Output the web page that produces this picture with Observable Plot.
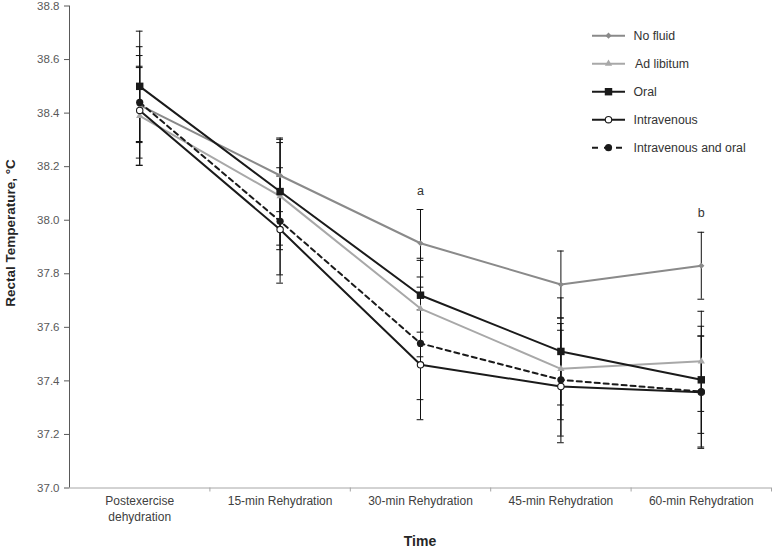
<!DOCTYPE html>
<html>
<head>
<meta charset="utf-8">
<script src="https://cdn.jsdelivr.net/npm/d3@7"></script>
<script src="https://cdn.jsdelivr.net/npm/@observablehq/plot@0.6"></script>
<style>
  body { margin: 0; background: #fff; font-family: "Liberation Sans", Arial, sans-serif; }
  #wrap { position: relative; width: 772px; height: 548px; overflow: hidden; }
  #wrap svg.chart { position: absolute; left: 0; top: 0; }
  .ytitle { position: absolute; left: 10px; top: 233px; transform: translate(-50%, -50%) rotate(-90deg);
            white-space: nowrap; font-weight: bold; font-size: 13.5px; color: #262626; }
  .xtitle { position: absolute; left: 420px; top: 541px; transform: translate(-50%, -50%);
            font-weight: bold; font-size: 14px; color: #262626; }
  #legend { position: absolute; left: 585px; top: 20px; }
</style>
</head>
<body>
<div id="wrap"></div>
<script>
// ---- data ----
const timeLabels = ["Postexercise\ndehydration", "15-min Rehydration", "30-min Rehydration", "45-min Rehydration", "60-min Rehydration"];
const seriesNames = ["No fluid", "Ad libitum", "Oral", "Intravenous", "Intravenous and oral"];
const noFluidMean = [38.43, 38.167, 37.914, 37.76, 37.83];
const noFluidSD   = [0.14, 0.135, 0.126, 0.125, 0.125];
const adLibMean   = [38.39, 38.09, 37.67, 37.445, 37.473];
const adLibSD     = [0.185, 0.2, 0.18, 0.19, 0.187];
const oralMean    = [38.50, 38.107, 37.72, 37.51, 37.404];
const oralSD      = [0.206, 0.2, 0.138, 0.2, 0.2];
const ivMean      = [38.41, 37.965, 37.46, 37.379, 37.358];
const ivSD        = [0.205, 0.2, 0.205, 0.21, 0.21];
const ivOralMean  = [38.44, 37.996, 37.54, 37.404, 37.36];
const ivOralSD    = [0.208, 0.2, 0.21, 0.21, 0.207];
const yTicks = [37.0, 37.2, 37.4, 37.6, 37.8, 38.0, 38.2, 38.4, 38.6, 38.8];
const sigLabels = ["", "", "a", "", "b"];

// ---- styles (not data) ----
const styles = {
  "No fluid":             { stroke: "#8a8a8a", fill: "#8a8a8a", symbol: "diamond2", r: 2.8, dash: null },
  "Ad libitum":           { stroke: "#a8a8a8", fill: "#a8a8a8", symbol: "triangle", r: 2.7, dash: null },
  "Oral":                 { stroke: "#1a1a1a", fill: "#1a1a1a", symbol: "square",   r: 4.2, dash: null },
  "Intravenous":          { stroke: "#1a1a1a", fill: "#ffffff", symbol: "circle",   r: 3.2, dash: null },
  "Intravenous and oral": { stroke: "#1a1a1a", fill: "#1a1a1a", symbol: "circle",   r: 3.6, dash: "5,4" }
};

const means = [noFluidMean, adLibMean, oralMean, ivMean, ivOralMean];
const sds = [noFluidSD, adLibSD, oralSD, ivSD, ivOralSD];
const rows = [];
seriesNames.forEach((name, k) => {
  means[k].forEach((v, i) => {
    rows.push({ series: name, i, x: i + 0.5, y: v, lo: v - sds[k][i], hi: v + sds[k][i] });
  });
});
const annRows = sigLabels.map((t, i) => ({
  x: i + 0.5, text: t,
  y: d3.max(rows.filter(r => r.i === i), r => r.hi)
})).filter(d => d.text);

const capHalf = 0.024;
const marks = [
  Plot.ruleY([37], { stroke: "#a6a6a6", strokeWidth: 1 }),
  Plot.axisY({ ticks: yTicks, tickSize: 5, tickPadding: 5, tickFormat: d3.format(".1f"),
               fontSize: 11.5, color: "#595959", label: null }),
  Plot.ruleX([0], { stroke: "#595959", strokeWidth: 1 }),
  Plot.axisX({ ticks: [1, 2, 3, 4, 5], tickSize: 4, tickFormat: () => "", color: "#a6a6a6", label: null }),
  Plot.axisX({ ticks: timeLabels.map((_, i) => i + 0.5), tickSize: 0, tickPadding: 6,
               tickFormat: d => timeLabels[Math.round(d - 0.5)], fontSize: 12, lineHeight: 1.3,
               color: "#404040", label: null }),
  // error bars
  Plot.ruleX(rows, { x: "x", y1: "lo", y2: "hi", stroke: "#111", strokeWidth: 1 }),
  Plot.ruleY(rows, { y: "hi", x1: d => d.x - capHalf, x2: d => d.x + capHalf, stroke: "#111", strokeWidth: 1 }),
  Plot.ruleY(rows, { y: "lo", x1: d => d.x - capHalf, x2: d => d.x + capHalf, stroke: "#111", strokeWidth: 1 })
];
seriesNames.forEach(name => {
  const s = styles[name];
  const data = rows.filter(r => r.series === name);
  marks.push(Plot.line(data, { x: "x", y: "y", stroke: s.stroke, strokeWidth: 2, strokeDasharray: s.dash }));
});
seriesNames.forEach(name => {
  const s = styles[name];
  const data = rows.filter(r => r.series === name);
  marks.push(Plot.dot(data, { x: "x", y: "y", symbol: s.symbol, r: s.r, fill: s.fill,
                              stroke: name === "Intravenous" ? s.stroke : "none", strokeWidth: 1.1 }));
});
marks.push(Plot.text(annRows, { x: "x", y: "y", text: "text", dy: -19, fontSize: 12.5, fill: "#333" }));

const chart = Plot.plot({
  width: 772, height: 548,
  marginTop: 5.5, marginBottom: 60.5, marginLeft: 69, marginRight: 1,
  style: { fontFamily: "Liberation Sans, Arial, sans-serif", fontSize: "11px", background: "#fff" },
  x: { type: "linear", domain: [0, 5], axis: null },
  y: { domain: [37, 38.8], axis: null },
  marks
});
chart.classList.add("chart");
const wrap = document.getElementById("wrap");
wrap.appendChild(chart);

const yt = document.createElement("div");
yt.className = "ytitle"; yt.textContent = "Rectal Temperature, °C";
wrap.appendChild(yt);
const xt = document.createElement("div");
xt.className = "xtitle"; xt.textContent = "Time";
wrap.appendChild(xt);

// ---- legend ----
const lg = d3.select(wrap).append("svg").attr("id", "legend").attr("width", 185).attr("height", 140);
const symbolMap = { diamond2: d3.symbolDiamond2, triangle: d3.symbolTriangle, square: d3.symbolSquare, circle: d3.symbolCircle };
seriesNames.forEach((name, k) => {
  const s = styles[name];
  const g = lg.append("g").attr("transform", `translate(0,${15.7 + k * 28})`);
  g.append("line").attr("x1", 7).attr("x2", 40).attr("y1", 0).attr("y2", 0)
    .attr("stroke", s.stroke).attr("stroke-width", 2).attr("stroke-dasharray", s.dash ? "6,6" : null);
  g.append("path").attr("transform", "translate(23.5,0)")
    .attr("d", d3.symbol(symbolMap[s.symbol], Math.PI * s.r * s.r)())
    .attr("fill", s.fill).attr("stroke", name === "Intravenous" ? s.stroke : "none").attr("stroke-width", 1.1);
  g.append("text").attr("x", name === "Ad libitum" ? 50 : 48.5).attr("y", 0).attr("dy", "0.35em")
    .attr("font-size", 12.3).attr("fill", "#333").attr("font-family", "Liberation Sans, Arial, sans-serif")
    .text(name);
});
</script>
</body>
</html>
